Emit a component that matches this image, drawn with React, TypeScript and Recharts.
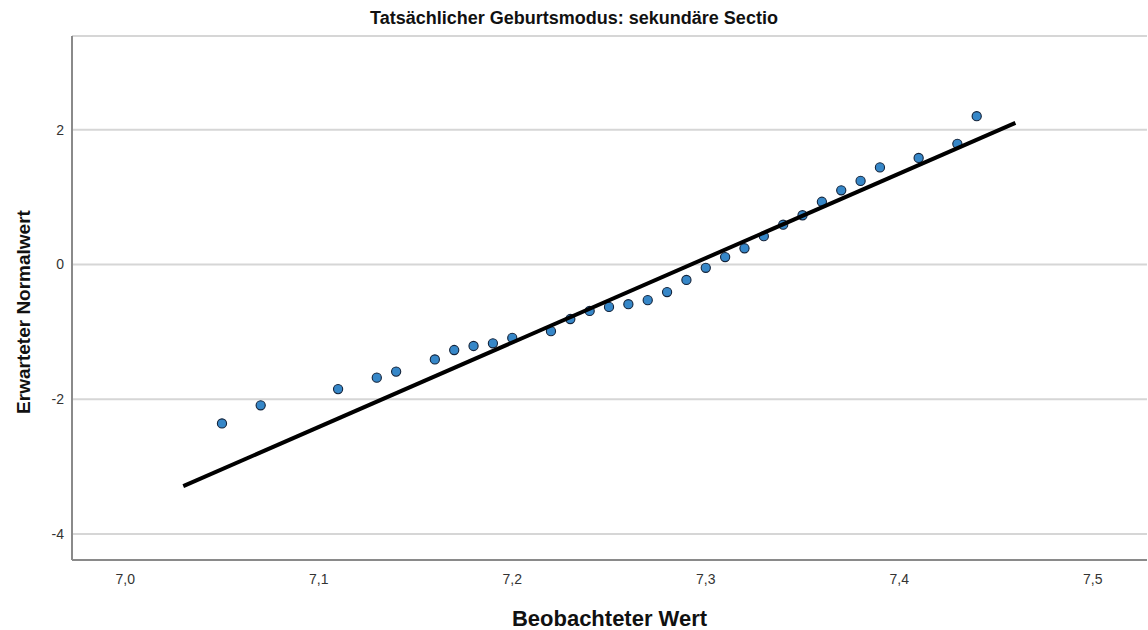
import React from 'react';
import { CartesianGrid, Label, Scatter, ScatterChart, XAxis, YAxis } from 'recharts';

// Q-Q plot: observed values vs. expected normal quantiles, with the reference line.

const observed = [
  7.05, 7.07, 7.11, 7.13, 7.14, 7.16, 7.17, 7.18, 7.19, 7.2, 7.22, 7.23, 7.24, 7.25, 7.26, 7.27,
  7.28, 7.29, 7.3, 7.31, 7.32, 7.33, 7.34, 7.35, 7.36, 7.37, 7.38, 7.39, 7.41, 7.43, 7.44,
];
const expectedNormal = [
  -2.36, -2.09, -1.85, -1.68, -1.59, -1.41, -1.27, -1.21, -1.17, -1.09, -0.99, -0.81, -0.69, -0.63,
  -0.59, -0.53, -0.41, -0.23, -0.05, 0.11, 0.24, 0.42, 0.59, 0.73, 0.93, 1.1, 1.24, 1.44, 1.58,
  1.79, 2.2,
];

const lineX = [7.03, 7.46];
const lineY = [-3.29, 2.1];

const xTicks = [7.0, 7.1, 7.2, 7.3, 7.4, 7.5];
const yTicks = [-4, -2, 0, 2];

const TITLE = 'Tatsächlicher Geburtsmodus: sekundäre Sectio';
const FONT = '"Liberation Sans", Arial, sans-serif';

const points = observed.map((x, i) => ({ x, y: expectedNormal[i] }));
const refLine = lineX.map((x, i) => ({ x, y: lineY[i] }));

const fmtComma = (v: number) => v.toFixed(1).replace('.', ',');

const Dot = (props: any) => {
  const { cx, cy } = props;
  if (cx == null || cy == null) return null;
  return <circle cx={cx} cy={cy} r={4.6} fill="#3687c8" stroke="#13233a" strokeWidth={1.1} />;
};

const YTitle = (props: any) => {
  const vb = props.viewBox || { x: 0, y: 0, width: 0, height: 0 };
  const cx = 23;
  const cy = vb.y + vb.height / 2 + 14;
  return (
    <text
      x={cx}
      y={cy}
      transform={`rotate(-90, ${cx}, ${cy})`}
      textAnchor="middle"
      dominantBaseline="central"
      fontFamily={FONT}
      fontSize={19}
      fontWeight="bold"
      fill="#111"
    >
      Erwarteter Normalwert
    </text>
  );
};

export default function App() {
  return (
    <div style={{ position: 'absolute', left: 0, top: 0, width: 1148, height: 630, background: '#fff' }}>
      <div
        style={{
          position: 'absolute',
          left: 0,
          top: 8,
          width: 1148,
          textAlign: 'center',
          fontFamily: FONT,
          fontSize: 18,
          fontWeight: 'bold',
          color: '#111',
          lineHeight: '20px',
        }}
      >
        {TITLE}
      </div>
      <ScatterChart width={1148} height={630} margin={{ top: 36, right: 1, bottom: 0, left: 0 }}>
        <CartesianGrid vertical={false} stroke="#d6d6d6" strokeWidth={2} />
        <XAxis
          type="number"
          dataKey="x"
          domain={[6.9725, 7.528]}
          allowDataOverflow
          ticks={xTicks}
          tickFormatter={fmtComma}
          height={70}
          tickSize={0}
          tickMargin={14}
          tickLine={false}
          axisLine={{ stroke: '#8a8a8a', strokeWidth: 2 }}
          tick={{ fontSize: 14, fill: '#333', fontFamily: FONT }}
        >
          <Label
            value="Beobachteter Wert"
            position="insideBottom"
            offset={4}
            style={{ fontSize: 22, fontWeight: 'bold', fill: '#111', fontFamily: FONT }}
          />
        </XAxis>
        <YAxis
          type="number"
          dataKey="y"
          domain={[-4.386, 3.39]}
          allowDataOverflow
          ticks={yTicks}
          width={72}
          tickSize={0}
          tickMargin={8}
          tickLine={false}
          axisLine={{ stroke: '#8a8a8a', strokeWidth: 2 }}
          tick={{ fontSize: 14, fill: '#333', fontFamily: FONT }}
        >
          <Label content={<YTitle />} />
        </YAxis>
        <Scatter data={points} shape={<Dot />} isAnimationActive={false} />
        <Scatter
          data={refLine}
          line={{ stroke: '#000', strokeWidth: 4 }}
          shape={() => null}
          isAnimationActive={false}
        />
      </ScatterChart>
    </div>
  );
}
